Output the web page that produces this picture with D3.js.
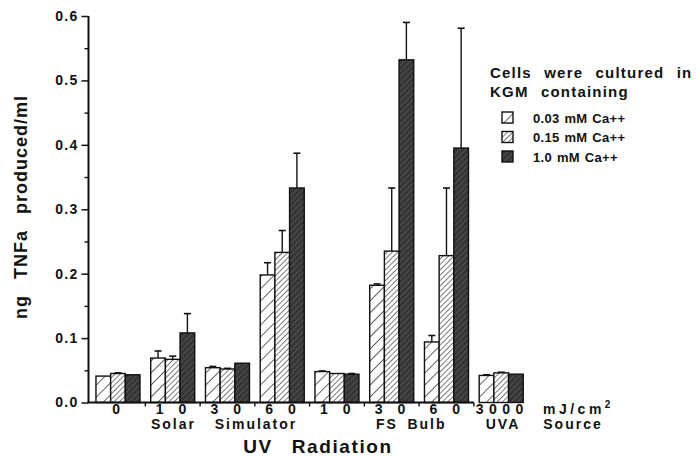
<!DOCTYPE html>
<html>
<head>
<meta charset="utf-8">
<script src="https://cdn.jsdelivr.net/npm/d3@7/dist/d3.min.js"></script>
<style>
  body { margin: 0; background: #fff; }
  svg { display: block; }
  text { font-family: "Liberation Sans", Arial, Helvetica, sans-serif; font-weight: bold; fill: #111; }
</style>
</head>
<body>
<svg id="chart" width="697" height="456"></svg>
<script>
// ---- data ----
const doseLabels = ["0", "1 0", "3 0", "6 0", "1 0", "3 0", "6 0", "3000"];
const seriesNames = ["0.03 mM Ca++", "0.15 mM Ca++", "1.0 mM Ca++"];
const low  = [0.041, 0.069, 0.054, 0.198, 0.048, 0.182, 0.094, 0.042];
const mid  = [0.045, 0.067, 0.052, 0.233, 0.045, 0.235, 0.228, 0.046];
const high = [0.043, 0.108, 0.061, 0.333, 0.044, 0.532, 0.395, 0.044];
const lowErr  = [null, 0.080, 0.056, 0.217, 0.049, 0.184, 0.104, 0.043];
const midErr  = [0.046, 0.072, 0.053, 0.267, null, 0.333, 0.333, 0.047];
const highErr = [null, 0.138, null, 0.387, 0.045, 0.590, 0.581, null];
const yTicks = [0.0, 0.1, 0.2, 0.3, 0.4, 0.5, 0.6];
const yMinorTicks = [0.05, 0.15, 0.25, 0.35, 0.45, 0.55];
const sourceLabels = [
  {text: "Solar", x: 173.5}, {text: "Simulator", x: 256},
  {text: "FS", x: 387}, {text: "Bulb", x: 427},
  {text: "UVA", x: 503}, {text: "Source", x: 573}
];

const values = [low, mid, high];
const errs = [lowErr, midErr, highErr];

const svg = d3.select("#chart");

// ---- patterns ----
const defs = svg.append("defs");
function hatch(id, spacing, bg, lineColor, lw) {
  const p = defs.append("pattern").attr("id", id)
    .attr("patternUnits", "userSpaceOnUse")
    .attr("width", spacing).attr("height", spacing)
    .attr("patternTransform", "rotate(45)");
  p.append("rect").attr("width", spacing).attr("height", spacing).attr("fill", bg);
  p.append("line").attr("x1", 0).attr("y1", 0).attr("x2", 0).attr("y2", spacing)
    .attr("stroke", lineColor).attr("stroke-width", lw);
}
hatch("p0", 8.5, "#fff", "#111", 1.3);
hatch("p1", 3.8, "#fff", "#111", 1.1);
hatch("p2", 4.2, "#363636", "#6e6e6e", 0.9);
const fills = ["url(#p0)", "url(#p1)", "url(#p2)"];

// ---- scales ----
const y = d3.scaleLinear().domain([0, 0.6]).range([402.5, 16]);
const x0 = d3.scaleBand().domain(d3.range(doseLabels.length))
  .range([90.6, 528.6]).paddingInner(0.196).paddingOuter(0.098);
const x1 = d3.scaleBand().domain(d3.range(3)).range([0, x0.bandwidth()]);

const axisX = 88.5;

// ---- bars ----
const groups = svg.append("g").selectAll("g").data(d3.range(doseLabels.length)).join("g")
  .attr("transform", i => `translate(${x0(i)},0)`);

groups.selectAll("g.bar").data(i => [0, 1, 2].map(s => ({s, i, v: values[s][i], e: errs[s][i]})))
  .join("g").attr("class", "bar").each(function(d) {
    const g = d3.select(this);
    const bx = x1(d.s), bw = x1.bandwidth();
    if (d.e != null) {
      const cx = bx + bw / 2;
      g.append("line").attr("x1", cx).attr("x2", cx).attr("y1", y(d.v)).attr("y2", y(d.e))
        .attr("stroke", "#111").attr("stroke-width", 1.4);
      g.append("line").attr("x1", cx - 3.5).attr("x2", cx + 3.5).attr("y1", y(d.e)).attr("y2", y(d.e))
        .attr("stroke", "#111").attr("stroke-width", 1.6);
    }
    g.append("rect").attr("x", bx).attr("y", y(d.v)).attr("width", bw)
      .attr("height", y(0) - y(d.v)).attr("fill", fills[d.s])
      .attr("stroke", "#111").attr("stroke-width", 1.4);
  });

// ---- y axis ----
const yAxis = d3.axisLeft(y).tickValues(yTicks).tickFormat(d3.format(".1f")).tickSize(7).tickPadding(3);
const ya = svg.append("g").attr("transform", `translate(${axisX},0)`).call(yAxis);
ya.select(".domain").attr("stroke", "#111").attr("stroke-width", 2).attr("d", `M0,${y(0.6)}V${y(0)}`);
ya.selectAll(".tick line").attr("stroke", "#111").attr("stroke-width", 1.5);
ya.selectAll(".tick text").attr("font-size", 14).attr("letter-spacing", "1.3px")
  .attr("font-family", "Liberation Sans, Arial, sans-serif").attr("font-weight", "bold").attr("fill", "#111");
const ym = svg.append("g").attr("transform", `translate(${axisX},0)`)
  .call(d3.axisLeft(y).tickValues(yMinorTicks).tickSize(4).tickFormat(""));
ym.select(".domain").remove();
ym.selectAll(".tick line").attr("stroke", "#111").attr("stroke-width", 1.4);

// ---- x axis ----
const xEnd = x0(6) + x0.bandwidth() + x0.step() * x0.paddingInner() / 2;
svg.append("line").attr("x1", axisX - 1).attr("x2", xEnd).attr("y1", y(0)).attr("y2", y(0))
  .attr("stroke", "#111").attr("stroke-width", 1.8);
const boundaries = d3.range(0, 7).map(i => x0(i) + x0.bandwidth() + x0.step() * x0.paddingInner() / 2);
svg.append("g").selectAll("line").data(boundaries).join("line")
  .attr("x1", d => d).attr("x2", d => d).attr("y1", y(0)).attr("y2", y(0) + 4)
  .attr("stroke", "#111").attr("stroke-width", 1.4);

svg.append("g").selectAll("text").data(doseLabels).join("text")
  .attr("x", (d, i) => x0(i) + x0.bandwidth() / 2 + 1)
  .attr("y", 414).attr("text-anchor", "middle")
  .attr("font-size", 14).attr("letter-spacing", "5.5px").text(d => d);

const unit = svg.append("text").attr("x", 543).attr("y", 414).attr("font-size", 14).attr("letter-spacing", "3.5px");
unit.append("tspan").text("mJ/cm");
unit.append("tspan").attr("dy", -6).attr("font-size", 10).attr("letter-spacing", "0px").text("2");

svg.append("g").selectAll("text").data(sourceLabels).join("text")
  .attr("x", d => d.x).attr("y", 428.5).attr("text-anchor", "middle")
  .attr("font-size", 14).attr("letter-spacing", "2px").text(d => d.text);

svg.append("text").attr("x", 318).attr("y", 453).attr("text-anchor", "middle")
  .attr("font-size", 19).attr("letter-spacing", "1.6px").attr("word-spacing", "12px")
  .text("UV Radiation");

// ---- y label ----
svg.append("text").attr("transform", "translate(27,207) rotate(-90)")
  .attr("text-anchor", "middle").attr("font-size", 18).attr("letter-spacing", "1px")
  .attr("word-spacing", "10px").text("ng TNFa produced/ml");

// ---- legend ----
svg.append("text").attr("x", 490).attr("y", 78).attr("font-size", 15)
  .attr("letter-spacing", "1.2px").attr("word-spacing", "7px").text("Cells were cultured in");
svg.append("text").attr("x", 490).attr("y", 97).attr("font-size", 15)
  .attr("letter-spacing", "1.2px").attr("word-spacing", "7px").text("KGM containing");
const leg = svg.append("g").selectAll("g").data(seriesNames).join("g")
  .attr("transform", (d, i) => `translate(502,${112 + i * 19.5})`);
leg.append("rect").attr("width", 11).attr("height", 11).attr("fill", (d, i) => fills[i])
  .attr("stroke", "#111").attr("stroke-width", 1.4);
leg.append("text").attr("x", 31).attr("y", 10.5).attr("font-size", 13)
  .attr("letter-spacing", "0.3px").attr("word-spacing", "1px").text(d => d);
</script>
</body>
</html>
